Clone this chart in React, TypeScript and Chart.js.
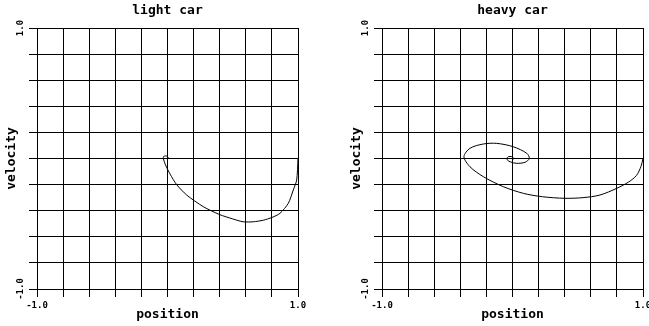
import React, { useEffect, useRef } from "react";
import { Chart, registerables } from "chart.js";

Chart.register(...registerables);

const chartTitles = ["light car", "heavy car"];
const xAxisTitle = "position";
const yAxisTitle = "velocity";
const axisMin = -1;
const axisMax = 1;
const gridStep = 0.2;
const minTickLabel = "-1.0";
const maxTickLabel = "1.0";

const lightPosition = [1.0, 0.99, 0.964, 0.926, 0.862, 0.8, 0.734, 0.657, 0.58, 0.5, 0.4, 0.274, 0.147, 0.07, 0.02, -0.015, -0.032, -0.03, -0.015, 0.0, 0.006, 0.0];
const lightVelocity = [0.0, -0.165, -0.241, -0.343, -0.42, -0.452, -0.473, -0.485, -0.485, -0.463, -0.43, -0.369, -0.28, -0.2, -0.12, -0.05, 0.0, 0.015, 0.02, 0.015, 0.003, 0.0];

const heavyPosition = [1.0, 0.985, 0.95, 0.89, 0.8, 0.67, 0.54, 0.4, 0.23, 0.083, -0.07, -0.224, -0.326, -0.372, -0.326, -0.224, -0.121, 0.006, 0.109, 0.129, 0.096, 0.032, -0.019, -0.044, -0.032, -0.006, 0.011, 0.0, 0.0];
const heavyVelocity = [0.0, -0.06, -0.13, -0.18, -0.228, -0.28, -0.3, -0.305, -0.293, -0.267, -0.216, -0.139, -0.063, 0.014, 0.078, 0.111, 0.116, 0.09, 0.04, 0.0, -0.029, -0.037, -0.025, -0.004, 0.014, 0.014, 0.0, -0.006, 0.0];

const FONT = "'DejaVu Sans Mono', monospace";

function endLabel(value: number): string {
  if (Math.abs(value - axisMin) < 1e-6) return minTickLabel;
  if (Math.abs(value - axisMax) < 1e-6) return maxTickLabel;
  return "";
}

function makeConfig(title: string, xs: number[], ys: number[], tension: number): any {
  const gridOpts = { color: "#000", lineWidth: 1, tickLength: 8, tickColor: "#000", drawTicks: true };
  const tickFont = { family: FONT, size: 9, weight: "bold" };
  const titleFont = { family: FONT, size: 13, weight: "bold" };
  return {
    type: "scatter",
    data: {
      datasets: [
        {
          data: xs.map((x, i) => ({ x, y: ys[i] })),
          showLine: true,
          borderColor: "#000",
          borderWidth: 1,
          pointRadius: 0,
          tension,
          fill: false,
        },
      ],
    },
    options: {
      responsive: false,
      animation: false,
      events: [],
      layout: { padding: { left: 0, right: 26, top: 0, bottom: 0 } },
      plugins: {
        legend: { display: false },
        tooltip: { enabled: false },
        title: {
          display: true,
          text: title,
          fullSize: false,
          color: "#000",
          font: titleFont,
          padding: { top: 3, bottom: 9.4 },
        },
      },
      scales: {
        x: {
          type: "linear",
          min: axisMin,
          max: axisMax,
          afterFit: (s: any) => {
            s.height = 37;
          },
          ticks: {
            stepSize: gridStep,
            autoSkip: false,
            maxRotation: 0,
            minRotation: 0,
            padding: 3,
            color: "#000",
            font: tickFont,
            callback: (v: any) => endLabel(Number(v)),
          },
          grid: gridOpts,
          border: { color: "#000", width: 1 },
          title: {
            display: true,
            text: xAxisTitle,
            color: "#000",
            font: titleFont,
            padding: { top: 0, bottom: 4 },
          },
        },
        y: {
          type: "linear",
          min: axisMin,
          max: axisMax,
          afterFit: (s: any) => {
            s.width = 37;
          },
          ticks: {
            stepSize: gridStep,
            autoSkip: false,
            minRotation: 90,
            maxRotation: 90,
            crossAlign: "center",
            padding: -2,
            color: "#000",
            font: tickFont,
            callback: (v: any) => endLabel(Number(v)),
          },
          grid: gridOpts,
          border: { color: "#000", width: 1 },
          title: {
            display: true,
            text: yAxisTitle,
            color: "#000",
            font: titleFont,
            padding: { top: 4, bottom: 0 },
          },
        },
      },
    },
  };
}

function PhasePlot(props: { title: string; xs: number[]; ys: number[]; left: number; tension: number }) {
  const ref = useRef<HTMLCanvasElement | null>(null);
  useEffect(() => {
    if (!ref.current) return;
    const chart = new Chart(ref.current, makeConfig(props.title, props.xs, props.ys, props.tension));
    return () => chart.destroy();
  }, [props.title, props.xs, props.ys, props.tension]);
  return (
    <div style={{ position: "absolute", left: props.left, top: 0, width: 324, height: 326 }}>
      <canvas ref={ref} width={324} height={326} style={{ display: "block", width: 324, height: 326 }} />
    </div>
  );
}

export default function App() {
  return (
    <div
      style={{
        position: "fixed",
        left: 0,
        top: 0,
        width: 649,
        height: 326,
        overflow: "hidden",
        background: "#fff",
      }}
    >
      <PhasePlot title={chartTitles[0]} xs={lightPosition} ys={lightVelocity} left={0} tension={0.25} />
      <PhasePlot title={chartTitles[1]} xs={heavyPosition} ys={heavyVelocity} left={345} tension={0.3} />
    </div>
  );
}
